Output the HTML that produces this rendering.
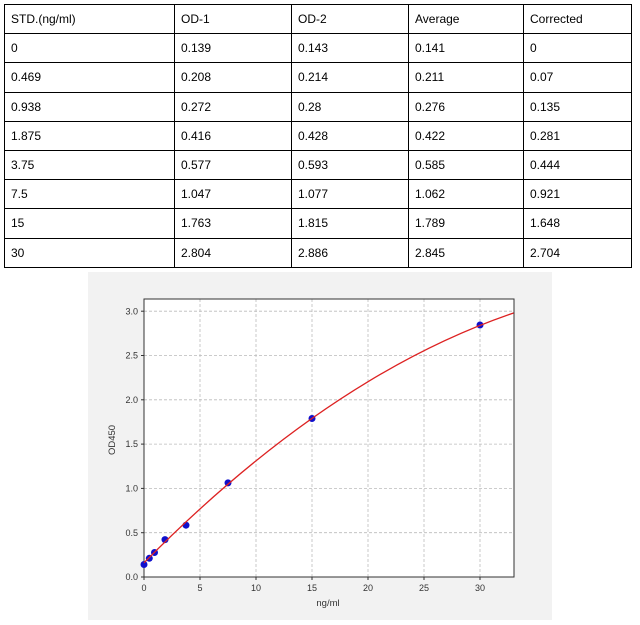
<!DOCTYPE html>
<html><head><style>
body{margin:0;width:640px;height:625px;background:#fff;position:relative;overflow:hidden;font-family:"Liberation Sans",sans-serif;}
table{position:absolute;left:4px;top:4px;border-collapse:collapse;font-size:12px;color:#000;}
td{border:1px solid #000;height:29.2px;padding:0 0 0 6px;box-sizing:border-box;}
</style></head><body>
<table>
<colgroup><col style="width:170px"><col style="width:117px"><col style="width:117px"><col style="width:115px"><col style="width:108px"></colgroup>
<tr><td>STD.(ng/ml)</td><td>OD-1</td><td>OD-2</td><td>Average</td><td>Corrected</td></tr>
<tr><td>0</td><td>0.139</td><td>0.143</td><td>0.141</td><td>0</td></tr>
<tr><td>0.469</td><td>0.208</td><td>0.214</td><td>0.211</td><td>0.07</td></tr>
<tr><td>0.938</td><td>0.272</td><td>0.28</td><td>0.276</td><td>0.135</td></tr>
<tr><td>1.875</td><td>0.416</td><td>0.428</td><td>0.422</td><td>0.281</td></tr>
<tr><td>3.75</td><td>0.577</td><td>0.593</td><td>0.585</td><td>0.444</td></tr>
<tr><td>7.5</td><td>1.047</td><td>1.077</td><td>1.062</td><td>0.921</td></tr>
<tr><td>15</td><td>1.763</td><td>1.815</td><td>1.789</td><td>1.648</td></tr>
<tr><td>30</td><td>2.804</td><td>2.886</td><td>2.845</td><td>2.704</td></tr>
</table>
<svg width="640" height="625" style="position:absolute;left:0;top:0" font-family="Liberation Sans, sans-serif">
<rect x="88" y="272" width="464" height="348" fill="#f2f2f2"/>
<rect x="144" y="299" width="370" height="278" fill="#fff"/>
<g stroke="#bbb" stroke-width="0.8" stroke-dasharray="3,2">
<line x1="200" y1="299" x2="200" y2="577"/><line x1="256" y1="299" x2="256" y2="577"/><line x1="312" y1="299" x2="312" y2="577"/><line x1="368" y1="299" x2="368" y2="577"/><line x1="424" y1="299" x2="424" y2="577"/><line x1="480" y1="299" x2="480" y2="577"/>
<line x1="144" y1="532.7" x2="514" y2="532.7"/><line x1="144" y1="488.4" x2="514" y2="488.4"/><line x1="144" y1="444.1" x2="514" y2="444.1"/><line x1="144" y1="399.8" x2="514" y2="399.8"/><line x1="144" y1="355.5" x2="514" y2="355.5"/><line x1="144" y1="311.2" x2="514" y2="311.2"/>
</g>
<rect x="144" y="299" width="370" height="278" fill="none" stroke="#333" stroke-width="1"/>
<g stroke="#333"><line x1="144" y1="577" x2="144" y2="580"/><line x1="200" y1="577" x2="200" y2="580"/><line x1="256" y1="577" x2="256" y2="580"/><line x1="312" y1="577" x2="312" y2="580"/><line x1="368" y1="577" x2="368" y2="580"/><line x1="424" y1="577" x2="424" y2="580"/><line x1="480" y1="577" x2="480" y2="580"/>
<line x1="141" y1="577" x2="144" y2="577"/><line x1="141" y1="532.7" x2="144" y2="532.7"/><line x1="141" y1="488.4" x2="144" y2="488.4"/><line x1="141" y1="444.1" x2="144" y2="444.1"/><line x1="141" y1="399.8" x2="144" y2="399.8"/><line x1="141" y1="355.5" x2="144" y2="355.5"/><line x1="141" y1="311.2" x2="144" y2="311.2"/></g>
<g font-size="9" fill="#333" text-anchor="middle"><text x="144" y="591">0</text><text x="200" y="591">5</text><text x="256" y="591">10</text><text x="312" y="591">15</text><text x="368" y="591">20</text><text x="424" y="591">25</text><text x="480" y="591">30</text></g>
<g font-size="9" fill="#333" text-anchor="end"><text x="138" y="580">0.0</text><text x="138" y="536">0.5</text><text x="138" y="491.5">1.0</text><text x="138" y="447">1.5</text><text x="138" y="403">2.0</text><text x="138" y="358.5">2.5</text><text x="138" y="314.5">3.0</text></g>
<text x="328" y="606" font-size="9.5" fill="#333" text-anchor="middle">ng/ml</text>
<text transform="translate(115,440) rotate(-90)" font-size="9.5" fill="#333" text-anchor="middle">OD450</text>
<g fill="#1010cc"><circle cx="144" cy="564.5" r="3.5"/><circle cx="149.3" cy="558.3" r="3.5"/><circle cx="154.5" cy="552.5" r="3.5"/><circle cx="165" cy="539.6" r="3.5"/><circle cx="186" cy="525.2" r="3.5"/><circle cx="228" cy="482.9" r="3.5"/><circle cx="312" cy="418.5" r="3.5"/><circle cx="480" cy="325" r="3.5"/></g>
<path d="M144,562.8 Q328.8,375.7 513.6,313" fill="none" stroke="#dd2222" stroke-width="1.3"/>
</svg>
</body></html>
